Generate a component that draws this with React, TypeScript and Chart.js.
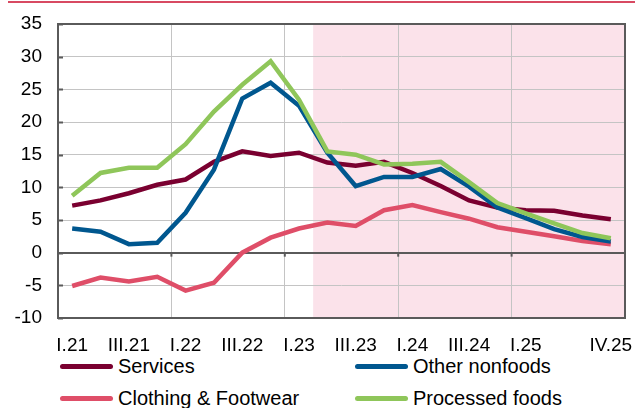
import React, { useEffect, useRef } from "react";
import { Chart, registerables } from "chart.js";

Chart.register(...registerables);

const categories = [
  "I.21", "II.21", "III.21", "IV.21",
  "I.22", "II.22", "III.22", "IV.22",
  "I.23", "II.23", "III.23", "IV.23",
  "I.24", "II.24", "III.24", "IV.24",
  "I.25", "II.25", "III.25", "IV.25",
];

const xTickLabels = [
  "I.21", "", "III.21", "",
  "I.22", "", "III.22", "",
  "I.23", "", "III.23", "",
  "I.24", "", "III.24", "",
  "I.25", "", "", "IV.25",
];

const yTicks = [-10, -5, 0, 5, 10, 15, 20, 25, 30, 35];

const services = [7.2, 8.0, 9.1, 10.4, 11.2, 13.9, 15.5, 14.8, 15.3, 13.8, 13.3, 13.9, 12.2, 10.2, 8.0, 6.9, 6.5, 6.4, 5.7, 5.1];
const otherNonfoods = [3.7, 3.2, 1.3, 1.5, 6.1, 12.7, 23.6, 26.0, 22.5, 15.3, 10.2, 11.6, 11.6, 12.8, 10.1, 6.9, 5.3, 3.6, 2.4, 1.7];
const clothing = [-5.1, -3.8, -4.4, -3.7, -5.8, -4.6, 0.0, 2.3, 3.7, 4.6, 4.1, 6.5, 7.3, 6.2, 5.2, 3.9, 3.2, 2.5, 1.8, 1.3];
const processedFoods = [8.7, 12.2, 13.0, 13.0, 16.6, 21.6, 25.7, 29.3, 23.4, 15.5, 15.0, 13.5, 13.6, 13.9, 10.8, 7.6, 6.0, 4.5, 3.0, 2.2];

const forecastStartIndex = 9;

const COLORS = {
  services: "#7a0030",
  other: "#00578f",
  clothing: "#df4e68",
  processed: "#8fc65a",
  shade: "#fbe2ea",
  grid: "#c4c4c4",
  axis: "#5a5a5a",
  topRule: "#d84a62",
};

const FONT = "'Liberation Sans', Arial, sans-serif";

const legendItems = [
  { label: "Services", color: COLORS.services, left: 60, top: 366 },
  { label: "Clothing & Footwear", color: COLORS.clothing, left: 60, top: 398 },
  { label: "Other nonfoods", color: COLORS.other, left: 355, top: 366 },
  { label: "Processed foods", color: COLORS.processed, left: 355, top: 398 },
];

const decorPlugin = {
  id: "decor",
  beforeDraw(chart: any) {
    const { ctx, chartArea, scales } = chart;
    const x = scales.x;
    const start = (x.getPixelForValue(forecastStartIndex - 1) + x.getPixelForValue(forecastStartIndex)) / 2;
    ctx.save();
    ctx.fillStyle = COLORS.shade;
    ctx.fillRect(start, chartArea.top, chartArea.right - start, chartArea.bottom - chartArea.top);
    ctx.restore();
  },
  afterDatasetsDraw(chart: any) {
    const { ctx, chartArea, scales } = chart;
    const x = scales.x;
    const y = scales.y;
    ctx.save();
    ctx.strokeStyle = COLORS.axis;
    ctx.lineWidth = 2;
    ctx.strokeRect(chartArea.left, chartArea.top, chartArea.right - chartArea.left, chartArea.bottom - chartArea.top);
    yTicks.forEach((v) => {
      const py = Math.round(y.getPixelForValue(v)) + 0.5;
      ctx.beginPath();
      ctx.moveTo(chartArea.left, py);
      ctx.lineTo(chartArea.left + 5, py);
      ctx.stroke();
    });
    const zy = y.getPixelForValue(0);
    for (let i = 4; i < categories.length; i += 4) {
      const px = (x.getPixelForValue(i - 1) + x.getPixelForValue(i)) / 2;
      ctx.beginPath();
      ctx.moveTo(px, zy);
      ctx.lineTo(px, zy + 4);
      ctx.stroke();
    }
    ctx.restore();
  },
};

export default function App() {
  const canvasRef = useRef<HTMLCanvasElement | null>(null);

  useEffect(() => {
    const canvas = canvasRef.current;
    if (!canvas) return;
    const zeroPad = (s: any) => {
      s.paddingLeft = 0;
      s.paddingRight = 0;
      s.paddingTop = 0;
      s.paddingBottom = 0;
    };
    const chart = new Chart(canvas, {
      type: "line",
      data: {
        labels: categories,
        datasets: [
          { label: "Services", data: services, borderColor: COLORS.services, backgroundColor: COLORS.services, borderWidth: 4.5, order: 4 },
          { label: "Other nonfoods", data: otherNonfoods, borderColor: COLORS.other, backgroundColor: COLORS.other, borderWidth: 4.5, order: 2 },
          { label: "Clothing & Footwear", data: clothing, borderColor: COLORS.clothing, backgroundColor: COLORS.clothing, borderWidth: 4.5, order: 3 },
          { label: "Processed foods", data: processedFoods, borderColor: COLORS.processed, backgroundColor: COLORS.processed, borderWidth: 4.5, order: 1 },
        ],
      },
      options: {
        animation: false,
        responsive: false,
        maintainAspectRatio: false,
        events: [],
        elements: {
          point: { radius: 0 },
          line: { tension: 0, borderCapStyle: "butt", borderJoinStyle: "miter" },
        },
        layout: { padding: { left: 0, right: 10, top: 24, bottom: 0 } },
        plugins: {
          legend: { display: false },
          tooltip: { enabled: false },
        },
        scales: {
          x: {
            type: "category",
            offset: true,
            grid: {
              offset: true,
              drawTicks: false,
              color: (c: any) => (c.index % 4 === 0 && c.index !== 0 && c.index !== categories.length ? COLORS.grid : "rgba(0,0,0,0)"),
              lineWidth: 1,
            },
            border: { display: false },
            ticks: {
              autoSkip: false,
              maxRotation: 0,
              minRotation: 0,
              padding: 16,
              color: "#000",
              font: { family: FONT, size: 19 },
              callback: (_v: any, i: number) => xTickLabels[i],
            },
            afterFit: (s: any) => {
              s.height = 34;
              zeroPad(s);
            },
          },
          y: {
            min: -10,
            max: 35,
            grid: {
              drawTicks: false,
              color: (c: any) => (c.tick && c.tick.value === 0 ? COLORS.axis : COLORS.grid),
              lineWidth: (c: any) => (c.tick && c.tick.value === 0 ? 2 : 1),
            },
            border: { display: false },
            ticks: {
              stepSize: 5,
              padding: 16,
              color: "#000",
              font: { family: FONT, size: 19 },
            },
            afterBuildTicks: (s: any) => {
              s.ticks = yTicks.map((v) => ({ value: v }));
            },
            afterFit: (s: any) => {
              s.width = 58;
              zeroPad(s);
            },
          },
        },
      },
      plugins: [decorPlugin],
    });
    return () => chart.destroy();
  }, []);

  return (
    <div style={{ position: "fixed", left: 0, top: 0, width: 635, height: 408, background: "#fff", overflow: "hidden" }}>
      <div style={{ position: "absolute", left: 8, right: 0, top: 1, height: 2, background: COLORS.topRule }} />
      <canvas ref={canvasRef} width={635} height={352} style={{ position: "absolute", left: 0, top: 0, width: 635, height: 352 }} />
      {legendItems.map((it) => (
        <div
          key={it.label}
          style={{
            position: "absolute",
            left: it.left,
            top: it.top - 12,
            height: 24,
            display: "flex",
            alignItems: "center",
            fontFamily: FONT,
            fontSize: 20,
            color: "#000",
            whiteSpace: "nowrap",
          }}
        >
          <div style={{ width: 53, height: 5, borderRadius: 3, background: it.color, marginRight: 5 }} />
          <span>{it.label}</span>
        </div>
      ))}
    </div>
  );
}
